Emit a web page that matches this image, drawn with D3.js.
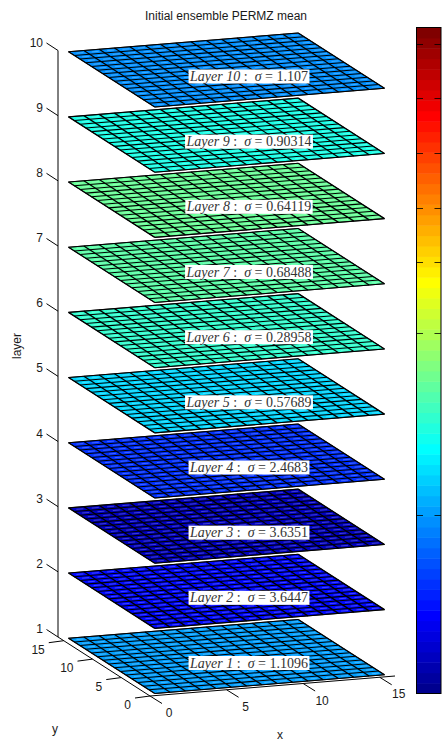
<!DOCTYPE html>
<html>
<head>
<meta charset="utf-8">
<script src="https://cdn.jsdelivr.net/npm/d3@7"></script>
<style>
html,body{margin:0;padding:0;background:#fff;overflow:hidden}
svg{display:block}
text{font-family:"Liberation Sans",Arial,sans-serif;fill:#1a1a1a}
</style>
</head>
<body>
<script>
const titleText = "Initial ensemble PERMZ mean";
const layerNumbers = [1,2,3,4,5,6,7,8,9,10];
const layerSigma = ["1.1096","3.6447","3.6351","2.4683","0.57689","0.28958","0.68488","0.64119","0.90314","1.107"];
const layerColorIndex = [18,8.5,4,11,21.5,27,29.5,30.5,25.5,17];
const xTicks = [0,5,10,15];
const yTicks = [0,5,10,15];
const zTicks = [1,2,3,4,5,6,7,8,9,10];
const meshEdges = d3.range(0.5,16,1);
const colorbarTicks = [62.4,57.2,51.9,46.7,41.5,34.6,17.2];
const colorbarBands = d3.range(1,65);

function jet(i){
  const c=v=>Math.round(Math.max(0,Math.min(1,v))*255);
  const b = i<=8 ? 0.5+i/16 : i<=24 ? 1 : i<=40 ? 1-(i-24)/16 : 0;
  const g = i<=8 ? 0 : i<=24 ? (i-8)/16 : i<=40 ? 1 : i<=56 ? 1-(i-40)/16 : 0;
  const r = i<=24 ? 0 : i<=40 ? (i-24)/16 : i<=56 ? 1 : 1-(i-56)/16;
  return `rgb(${c(r)},${c(g)},${c(b)})`;
}

const W=442,H=741;
const svg=d3.select("body").append("svg").attr("width",W).attr("height",H);

// Oblique projection of the 3-D box, built from linear scales
const xToPx=d3.scaleLinear([0,16],[150,395]);
const xToPy=d3.scaleLinear([0,16],[0,-20]);
const yToPx=d3.scaleLinear([0,16],[0,-92]);
const yToPy=d3.scaleLinear([0,16],[696,637]);
const zToPy=d3.scaleLinear([1,10],[0,-586.5]);
const P=(x,y,z)=>[xToPx(x)+yToPx(y), xToPy(x)+yToPy(y)+zToPy(z)];
const line=d3.line();

const axes=svg.append("g").attr("stroke","#000").attr("fill","none").attr("stroke-width",1);
axes.append("path").attr("d",line([P(0,16,1),P(0,16,10)]));
axes.append("path").attr("d",line([P(0,16,1),P(0,0,1),P(16,0,1)]));
xTicks.forEach(v=>{const p=P(v,0,1);axes.append("path").attr("d",line([p,[p[0]+12,p[1]+7.5]]));});
yTicks.forEach(v=>{const p=P(0,v,1);axes.append("path").attr("d",line([p,[p[0]-15,p[1]+2]]));});
zTicks.forEach(v=>{const p=P(0,16,v);axes.append("path").attr("d",line([p,[p[0]-11.5,p[1]-7.5]]));});

// Layer meshes
const mesh=svg.append("g");
const [e0,e1]=d3.extent(meshEdges);
layerNumbers.forEach((z,k)=>{
  const g=mesh.append("g");
  const col=jet(layerColorIndex[k]);
  g.append("path").attr("d",line([P(e0,e0,z),P(e1,e0,z),P(e1,e1,z),P(e0,e1,z)])+"Z").attr("fill",col).attr("stroke","#000").attr("stroke-width",.8);
  // light specular streak through each row of cells
  d3.range(e0+.5,e1,1).forEach(y=>{
    g.append("path").attr("d",line([P(e0,y,z),P(e1,y,z)])).attr("stroke","#fff").attr("stroke-opacity",.25).attr("stroke-width",1).attr("stroke-dasharray","7 8.4").attr("stroke-dashoffset",-5).attr("fill","none");
  });
  meshEdges.forEach(v=>{
    g.append("path").attr("d",line([P(v,e0,z),P(v,e1,z)])).attr("stroke","#000").attr("stroke-width",1.25).attr("fill","none");
    g.append("path").attr("d",line([P(e0,v,z),P(e1,v,z)])).attr("stroke","#000").attr("stroke-width",1.05).attr("fill","none");
  });
});

// Layer labels
const serif='"Liberation Serif","Times New Roman",serif';
layerNumbers.forEach((z,k)=>{
  const cy=zToPy(z)+663;
  const g=svg.append("g");
  const rect=g.append("rect").attr("fill","#fff");
  const t=g.append("text").attr("x",249).attr("y",cy+4.5).attr("text-anchor","middle").attr("font-size",14).attr("font-family",serif).style("font-family",serif).attr("fill","#333").style("fill","#333").attr("xml:space","preserve").style("white-space","pre");
  t.append("tspan").attr("font-style","italic").text(`Layer ${z}`);
  t.append("tspan").text(" :  ");
  t.append("tspan").attr("font-style","italic").text("σ");
  t.append("tspan").text(` = ${layerSigma[k]}`);
  const w=t.node().getComputedTextLength();
  rect.attr("x",249-w/2-1.5).attr("y",cy-7).attr("width",w+3).attr("height",14);
});

// Tick labels
const tick=(x,y,s,anchor)=>svg.append("text").attr("x",x).attr("y",y).attr("text-anchor",anchor).attr("dominant-baseline","central").attr("font-size",12).text(s);
zTicks.forEach(v=>{const p=P(0,16,v);tick(p[0]-15,p[1]-8,v,"end");});
yTicks.forEach(v=>{const p=P(0,v,1);tick(p[0]-19,p[1]+9,v,"end");});
xTicks.forEach(v=>{const p=P(v,0,1);tick(p[0]+19,p[1]+17,v,"middle");});

svg.append("text").attr("x",226).attr("y",20).attr("text-anchor","middle").attr("font-size",12).text(titleText);
svg.append("text").attr("x",280).attr("y",738.5).attr("text-anchor","middle").attr("font-size",12).text("x");
svg.append("text").attr("x",55).attr("y",729).attr("dominant-baseline","central").attr("text-anchor","middle").attr("font-size",12).text("y");
svg.append("text").attr("transform","translate(17,346) rotate(-90)").attr("dominant-baseline","central").attr("text-anchor","middle").attr("font-size",12).text("layer");

// Colorbar
const cbY=d3.scaleLinear([0,64],[693.5,27.5]);
const cb=svg.append("g");
cb.selectAll("rect").data(colorbarBands).join("rect")
  .attr("x",416.5).attr("width",24.5)
  .attr("y",d=>cbY(d)).attr("height",d=>cbY(d-1)-cbY(d)+.5)
  .attr("fill",d=>jet(d));
cb.append("rect").attr("x",416.5).attr("y",27.5).attr("width",24.5).attr("height",666).attr("fill","none").attr("stroke","#000");
colorbarTicks.forEach(v=>{
  const y=Math.round(cbY(v))+.5;
  cb.append("path").attr("d",line([[416.5,y],[423,y]])).attr("stroke","#000").attr("opacity",.8);
  cb.append("path").attr("d",line([[434.5,y],[441,y]])).attr("stroke","#000").attr("opacity",.8);
});
</script>
</body>
</html>
